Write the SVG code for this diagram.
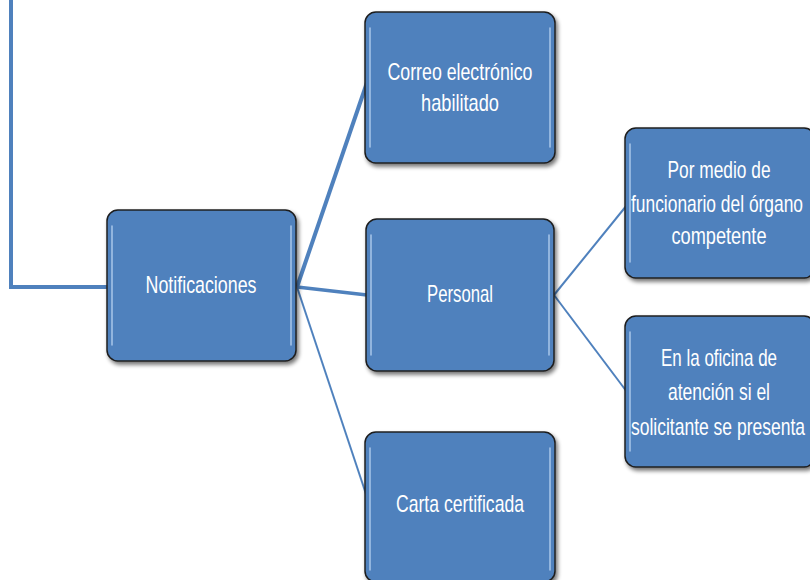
<svg xmlns="http://www.w3.org/2000/svg" width="810" height="580" viewBox="0 0 810 580">
  <defs>
    <filter id="shadow" x="-10%" y="-10%" width="125%" height="125%">
      <feGaussianBlur in="SourceAlpha" stdDeviation="2"/>
      <feOffset dx="2" dy="3" result="b"/>
      <feComponentTransfer><feFuncA type="linear" slope="0.55"/></feComponentTransfer>
      <feMerge><feMergeNode/><feMergeNode in="SourceGraphic"/></feMerge>
    </filter>
  </defs>
  <style>
    .box { fill: #4F81BD; stroke: #1f1f1f; stroke-width: 1.5; filter: url(#shadow); }
    .gloss { stroke: #b9d3f2; stroke-width: 1.5; stroke-linecap: round; opacity: 0.85; }
    .lbl { fill: #ffffff; font-family: "Liberation Sans", Arial, sans-serif; font-size: 24px; text-anchor: middle; }
    .conn { fill: none; stroke: #4F81BD; }
  </style>

  <!-- connectors -->
  <g id="connectors">
    <polyline class="conn" points="11,0 11,287 107,287" stroke-width="4"/>
    <line class="conn" x1="297" y1="287" x2="372" y2="68" stroke-width="4"/>
    <line class="conn" x1="297" y1="287" x2="367" y2="295" stroke-width="3.5"/>
    <line class="conn" x1="297" y1="287" x2="367" y2="497" stroke-width="2"/>
    <line class="conn" x1="554" y1="295" x2="627" y2="205" stroke-width="2"/>
    <line class="conn" x1="554" y1="295" x2="627" y2="392" stroke-width="2"/>
  </g>

  <!-- labels use a condensed look: scaled horizontally, then fitted -->
  <g id="notificaciones">
    <rect class="box" x="107" y="210" width="189" height="151" rx="11"/>
    <line class="gloss" x1="112" y1="226" x2="112" y2="345"/>
    <line class="gloss" x1="291" y1="226" x2="291" y2="345"/>
    <text class="lbl" transform="translate(201 293) scale(0.73 1)" textLength="152" lengthAdjust="spacingAndGlyphs">Notificaciones</text>
  </g>

  <g id="correo">
    <rect class="box" x="365" y="12" width="190" height="151" rx="11"/>
    <line class="gloss" x1="370" y1="28" x2="370" y2="147"/>
    <line class="gloss" x1="550" y1="28" x2="550" y2="147"/>
    <text class="lbl" transform="translate(460 80) scale(0.73 1)" textLength="198.6" lengthAdjust="spacingAndGlyphs">Correo electrónico</text>
    <text class="lbl" transform="translate(460 111) scale(0.73 1)" textLength="106.8" lengthAdjust="spacingAndGlyphs">habilitado</text>
  </g>

  <g id="personal">
    <rect class="box" x="366" y="219" width="188" height="152" rx="11"/>
    <line class="gloss" x1="371" y1="235" x2="371" y2="355"/>
    <line class="gloss" x1="549" y1="235" x2="549" y2="355"/>
    <text class="lbl" transform="translate(460 302) scale(0.73 1)" textLength="90.4" lengthAdjust="spacingAndGlyphs">Personal</text>
  </g>

  <g id="carta">
    <rect class="box" x="365" y="432" width="190" height="150" rx="11"/>
    <line class="gloss" x1="370" y1="448" x2="370" y2="570"/>
    <line class="gloss" x1="550" y1="448" x2="550" y2="570"/>
    <text class="lbl" transform="translate(460 512) scale(0.73 1)" textLength="175.3" lengthAdjust="spacingAndGlyphs">Carta certificada</text>
  </g>

  <g id="por-medio">
    <rect class="box" x="625" y="128" width="190" height="150" rx="11"/>
    <line class="gloss" x1="630" y1="144" x2="630" y2="262"/>
    <text class="lbl" transform="translate(719 178) scale(0.73 1)" textLength="141.1" lengthAdjust="spacingAndGlyphs">Por medio de</text>
    <text class="lbl" transform="translate(717 212) scale(0.73 1)" textLength="235.6" lengthAdjust="spacingAndGlyphs">funcionario del órgano</text>
    <text class="lbl" transform="translate(719 244) scale(0.73 1)" textLength="130.1" lengthAdjust="spacingAndGlyphs">competente</text>
  </g>

  <g id="oficina">
    <rect class="box" x="625" y="316" width="190" height="151" rx="11"/>
    <line class="gloss" x1="630" y1="332" x2="630" y2="451"/>
    <text class="lbl" transform="translate(719 366) scale(0.73 1)" textLength="158.9" lengthAdjust="spacingAndGlyphs">En la oficina de</text>
    <text class="lbl" transform="translate(719 400) scale(0.73 1)" textLength="139.7" lengthAdjust="spacingAndGlyphs">atención si el</text>
    <text class="lbl" transform="translate(718 435) scale(0.73 1)" textLength="238.4" lengthAdjust="spacingAndGlyphs">solicitante se presenta</text>
  </g>
</svg>
